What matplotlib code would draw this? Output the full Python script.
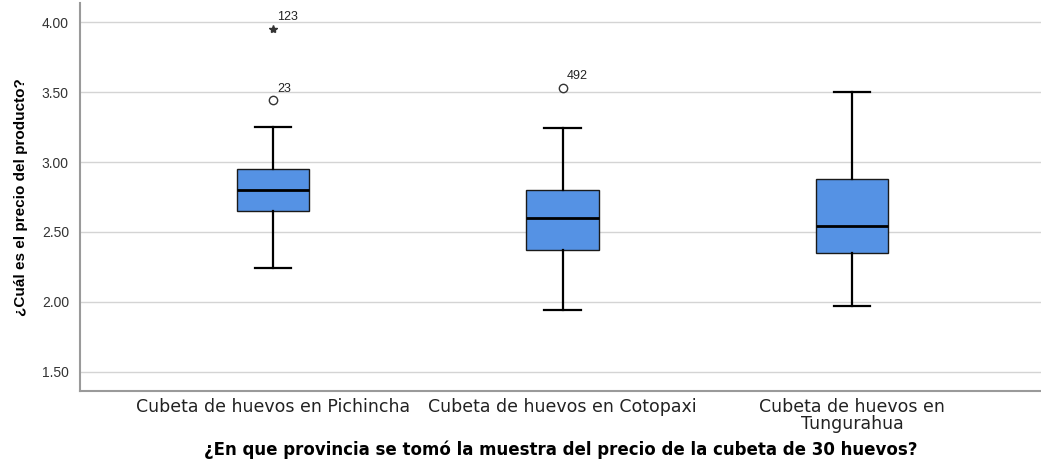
import matplotlib.pyplot as plt

plt.rcParams['font.family'] = ['Liberation Sans', 'DejaVu Sans']

# box summary per province (price of a 30-egg tray)
provincias = ['Cubeta de huevos en Pichincha', 'Cubeta de huevos en Cotopaxi',
              'Cubeta de huevos en\nTungurahua']
whisker_lo = [2.24, 1.94, 1.97]
q1 = [2.65, 2.37, 2.35]
mediana = [2.80, 2.60, 2.54]
q3 = [2.95, 2.80, 2.88]
whisker_hi = [3.25, 3.24, 3.50]

# outliers: box index, value, case id, extreme or not
atipico_grupo = [0, 0, 1]
atipico_valor = [3.95, 3.44, 3.53]
atipico_caso = ['123', '23', '492']
atipico_extremo = [True, False, False]

yticks = [1.50, 2.00, 2.50, 3.00, 3.50, 4.00]

fig = plt.figure(figsize=(10.41, 4.63), dpi=100)
ax = fig.add_axes([80 / 1041, 72 / 463, 961 / 1041, 388 / 463])

stats = []
for i in range(len(provincias)):
    stats.append({'whislo': whisker_lo[i], 'q1': q1[i], 'med': mediana[i],
                  'q3': q3[i], 'whishi': whisker_hi[i], 'fliers': []})

ax.bxp(stats, positions=range(len(provincias)), widths=0.25, patch_artist=True,
       showfliers=False,
       boxprops=dict(facecolor='#5592e4', edgecolor='#1a1a1a', linewidth=1.0),
       medianprops=dict(color='black', linewidth=2.0),
       whiskerprops=dict(color='black', linewidth=1.6),
       capprops=dict(color='black', linewidth=1.6),
       capwidths=0.125, zorder=3)

for g, v, caso, ext in zip(atipico_grupo, atipico_valor, atipico_caso, atipico_extremo):
    if ext:
        ax.plot(g, v, marker='*', color='#333333', markersize=6, linestyle='none', zorder=4)
    else:
        ax.plot(g, v, marker='o', markerfacecolor='white', markeredgecolor='#333333',
                markersize=6, markeredgewidth=1.0, linestyle='none', zorder=4)
    ax.annotate(caso, (g, v), xytext=(3, 4), textcoords='offset points',
                fontsize=9, color='#222222', ha='left', va='bottom')

ax.set_xlim(-0.667, 2.653)
ax.set_ylim(1.364, 4.136)
ax.set_yticks(yticks)
ax.set_yticklabels(['%.2f' % t for t in yticks], fontsize=10, color='#333333')
ax.set_xticks(range(len(provincias)))
ax.set_xticklabels(provincias, fontsize=12.5, color='#222222', linespacing=0.95,
                   family=['DejaVu Sans'])
ax.tick_params(axis='x', length=0, pad=5)
ax.tick_params(axis='y', length=0, pad=8)

ax.grid(axis='y', color='#d4d4d4', linewidth=1.0, zorder=0)
ax.set_axisbelow(True)
for s in ['top', 'right']:
    ax.spines[s].set_visible(False)
for s in ['left', 'bottom']:
    ax.spines[s].set_color('#9a9a9a')
    ax.spines[s].set_linewidth(1.5)

ax.set_ylabel('¿Cuál es el precio del producto?', fontsize=11, fontweight='bold', labelpad=10)
ax.set_xlabel('¿En que provincia se tomó la muestra del precio de la cubeta de 30 huevos?',
              fontsize=12, fontweight='bold', labelpad=5, family=['DejaVu Sans'])

fig.savefig('out.png', dpi=100)
